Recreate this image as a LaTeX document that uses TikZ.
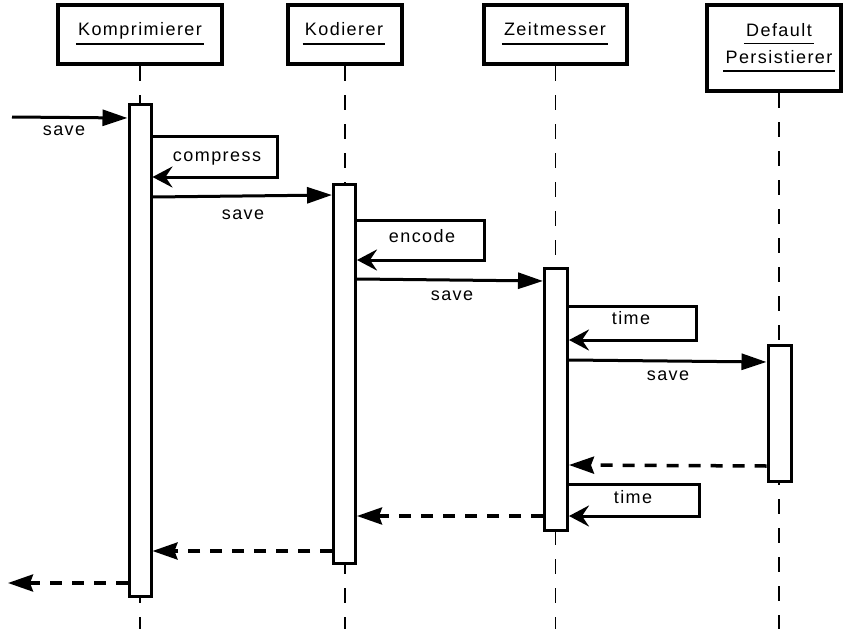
\documentclass[tikz,border=0pt]{standalone}
\usepackage{fontspec}
\setmainfont{Liberation Sans}[LetterSpace=8]
\usetikzlibrary{arrows.meta}
\tikzset{
  every node/.style={font=\fontsize{18}{21}\selectfont},
  headbox/.style={draw, line width=4pt, minimum height=59pt, inner sep=0pt},
  headtext/.style={anchor=base, inner sep=2pt},
  uline/.style={line width=1.5pt},
  lifeline/.style={line width=1.4pt, dash pattern=on 15pt off 14pt},
  actbox/.style={draw, fill=white, line width=3pt, minimum width=22pt, inner sep=0pt},
  call/.style={line width=3pt, -{Triangle[length=25pt,width=16pt]}},
  selfcall/.style={line width=3pt, -{Stealth[length=20pt,width=21pt,inset=7pt]}},
  reply/.style={line width=3.5pt, dash pattern=on 12pt off 10pt, -{Stealth[length=25pt,width=17pt,inset=3pt]}},
  lbl/.style={anchor=base, inner sep=0pt},
}
\begin{document}
\begin{tikzpicture}[x=1pt, y=-1pt]
  \clip (0,0) rectangle (843,629);
  \fill[white] (0,0) rectangle (843,629);

  % object headers
  \node[headbox, minimum width=164pt] (hk) at (140,34.5) {};
  \node[headbox, minimum width=114pt] (hd) at (345,34.5) {};
  \node[headbox, minimum width=143pt] (hz) at (555.5,34.5) {};
  \node[headbox, minimum width=134pt, minimum height=86pt] (hp) at (774,48) {};

  \node[headtext] (tk) at (140,35) {Komprimierer};
  \draw[uline] (tk.west |- 0,44) -- (tk.east |- 0,44);
  \node[headtext] (td) at (344,35) {Kodierer};
  \draw[uline] (td.west |- 0,44) -- (td.east |- 0,44);
  \node[headtext] (tz) at (555,35) {Zeitmesser};
  \draw[uline] (tz.west |- 0,44) -- (tz.east |- 0,44);
  \node[headtext] (tp1) at (779,36) {Default};
  \draw[uline] (tp1.west |- 0,43.5) -- (tp1.east |- 0,43.5);
  \node[headtext] (tp2) at (779,63) {Persistierer};
  \draw[uline] (tp2.west |- 0,71) -- (tp2.east |- 0,71);

  % lifelines
  \draw[lifeline] (hk.south) -- (hk.south |- 0,629);
  \draw[lifeline] (hd.south) -- (hd.south |- 0,629);
  \draw[lifeline] (hz.south) -- (hz.south |- 0,629);
  \draw[lifeline] (hp.south -| 779,0) -- (779,629);

  % activation bars
  \node[actbox, minimum height=492pt] (ak) at (140,350) {};
  \node[actbox, minimum height=379pt] (ad) at (344.5,373.5) {};
  \node[actbox, minimum height=262pt, minimum width=23pt] (az) at (556,399) {};
  \node[actbox, minimum height=136pt, minimum width=23pt] (ap) at (779.5,413) {};

  % messages
  \coordinate (entry) at (12,117);
  \draw[call] (entry) -- (ak.west |- 0,118);
  \node[lbl] (m1) at (64,135) {save};

  \draw[selfcall] (ak.east |- 0,136) -- (277,136) |- (ak.east |- 0,177);
  \node[lbl] (m2) at (217,161) {compress};

  \draw[call] (ak.east |- 0,197) -- (ad.west |- 0,195);
  \node[lbl] (m3) at (243,219) {save};

  \draw[selfcall] (ad.east |- 0,220) -- (484,220) |- (ad.east |- 0,260);
  \node[lbl] (m4) at (422,242) {encode};

  \draw[call] (ad.east |- 0,279) -- (az.west |- 0,281);
  \node[lbl] (m5) at (452,300) {save};

  \draw[selfcall] (az.east |- 0,306) -- (696,306) |- (az.east |- 0,340);
  \node[lbl] (m6) at (631,324) {time};

  \draw[call] (az.east |- 0,360) -- (ap.west |- 0,362);
  \node[lbl] (m7) at (668,380) {save};

  % replies
  \draw[reply] (ap.west |- 0,466) -- (az.east |- 0,465);

  \draw[selfcall] (az.east |- 0,484) -- (699,484) |- (az.east |- 0,516);
  \node[lbl] (m8) at (633,503) {time};

  \draw[reply] (az.west |- 0,516) -- (ad.east |- 0,516);
  \draw[reply] (ad.west |- 0,551) -- (ak.east |- 0,551);
  \coordinate (exit) at (8,583);
  \draw[reply] (ak.west |- 0,583) -- (exit);
\end{tikzpicture}
\end{document}
